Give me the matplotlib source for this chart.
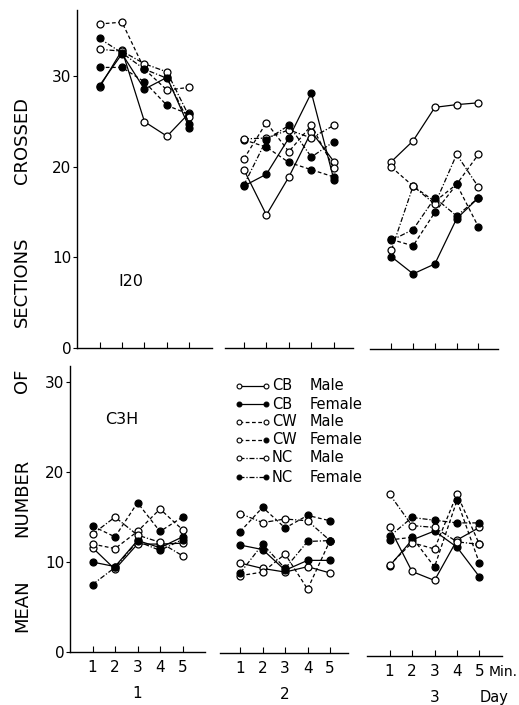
import numpy as np
import matplotlib
matplotlib.use("Agg")
import matplotlib.pyplot as plt
from matplotlib.lines import Line2D

W, H = 519, 705

minutes = [1, 2, 3, 4, 5]
days = ["1", "2", "3"]
labels = ["CB Male", "CB Female", "CW Male", "CW Female", "NC Male", "NC Female"]
ylabel_words = ["MEAN", "NUMBER", "OF", "SECTIONS", "CROSSED"]

# strain I20, one list per day (minutes 1-5)
i20_cb_male = [[28.8, 32.9, 25.0, 23.4, 26.0], [19.7, 14.7, 18.9, 23.9, 20.6], [20.7, 23.0, 26.7, 27.0, 27.2]]
i20_cb_female = [[29.0, 32.5, 28.6, 29.9, 24.3], [17.9, 19.2, 23.2, 28.2, 18.6], [10.2, 8.3, 9.4, 14.4, 16.7]]
i20_cw_male = [[35.8, 36.0, 30.8, 28.5, 28.8], [20.9, 24.9, 21.7, 24.6, 19.9], [20.1, 18.0, 16.3, 18.2, 21.5]]
i20_cw_female = [[31.0, 31.0, 29.4, 26.8, 25.8], [23.0, 22.2, 20.5, 19.7, 18.9], [12.1, 11.4, 15.1, 18.2, 13.5]]
i20_nc_male = [[33.0, 32.8, 31.4, 30.5, 25.5], [23.1, 23.2, 24.1, 23.2, 24.6], [10.9, 18.0, 16.0, 21.5, 17.9]]
i20_nc_female = [[34.2, 32.6, 30.8, 29.8, 24.8], [18.0, 23.0, 24.6, 21.1, 22.8], [12.0, 13.2, 16.7, 14.7, 16.7]]

# strain C3H
c3h_cb_male = [[11.6, 9.2, 12.0, 12.0, 12.1], [10.0, 9.4, 9.0, 9.6, 8.9], [14.3, 9.4, 8.4, 12.9, 14.3]]
c3h_cb_female = [[10.0, 9.5, 12.4, 11.6, 12.8], [12.0, 11.5, 9.2, 10.3, 10.3], [10.0, 12.9, 13.9, 12.1, 8.8]]
c3h_cw_male = [[12.0, 11.5, 13.4, 15.9, 13.6], [8.6, 9.0, 11.0, 7.1, 12.5], [10.1, 12.6, 11.9, 18.0, 12.4]]
c3h_cw_female = [[14.0, 12.8, 16.6, 13.4, 15.0], [13.5, 16.2, 13.9, 15.3, 14.7], [12.9, 13.2, 9.9, 17.3, 10.3]]
c3h_nc_male = [[13.1, 15.0, 13.0, 12.2, 10.7], [15.5, 14.5, 14.9, 14.7, 12.5], [18.0, 14.5, 14.3, 12.7, 12.4]]
c3h_nc_female = [[7.5, 9.4, 12.3, 11.3, 12.5], [8.9, 12.1, 9.4, 12.4, 12.5], [13.3, 15.4, 15.1, 14.8, 14.8]]

i20 = [i20_cb_male, i20_cb_female, i20_cw_male, i20_cw_female, i20_nc_male, i20_nc_female]
c3h = [c3h_cb_male, c3h_cb_female, c3h_cw_male, c3h_cw_female, c3h_nc_male, c3h_nc_female]

dash = (0, (3, 2))
dashdot = (0, (4, 1.5, 1, 1.5))
styles = ["-", "-", dash, dash, dashdot, dashdot]
faces = ["white", "black", "white", "black", "white", "black"]

fig = plt.figure(figsize=(W / 100, H / 100), dpi=100)


def add_ax(left, right, y0, ytop):
    return fig.add_axes([left / W, (H - y0) / H, (right - left) / W, (y0 - ytop) / H])


# pixel boxes for each panel: (left, right, zero line, top)
top_boxes = [(77, 212, 348, 10.4), (225, 353, 348, 10.4), (370, 498, 349, 11.4)]
top_xlims = [(0, 6), (0.16, 5.85), (0.02, 5.9)]
bot_boxes = [(70, 205, 652, 366), (220, 348, 653, 367), (367, 502, 656, 370)]
bot_xlims = [(0, 6), (0.1, 5.8), (0.0, 6.0)]


def draw_row(boxes, xlims, data, ymax, show_labels):
    axes = []
    for g in range(3):
        ax = add_ax(*boxes[g])
        ax.set_xlim(*xlims[g])
        ax.set_ylim(0, ymax)
        for s in range(6):
            ax.plot(minutes, data[s][g], linestyle=styles[s], color="black", lw=0.9,
                    marker="o", ms=5, mfc=faces[s], mec="black", mew=0.9, clip_on=False)
        for side in ["top", "right"]:
            ax.spines[side].set_visible(False)
        ax.spines["bottom"].set_linewidth(1.0)
        ax.set_xticks(minutes)
        ax.tick_params(axis="x", direction="in", length=4, width=0.8,
                       labelsize=11, pad=6, labelbottom=show_labels)
        if g == 0:
            ax.spines["left"].set_linewidth(1.0)
            ax.set_yticks([0, 10, 20, 30])
            ax.tick_params(axis="y", direction="out", length=3, width=0.8,
                           labelsize=11, pad=1)
        else:
            ax.spines["left"].set_visible(False)
            ax.set_yticks([])
        ax.patch.set_alpha(0)
        axes.append(ax)
    return axes


top_axes = draw_row(top_boxes, top_xlims, i20, 37.3, False)
bot_axes = draw_row(bot_boxes, bot_xlims, c3h, 31.8, True)

top_axes[0].text(2.4, 7.3, "I20", fontsize=11.5, ha="center", va="center")
bot_axes[0].text(2.3, 25.8, "C3H", fontsize=11.5, ha="center", va="center")

for g in range(3):
    bot_axes[g].text(3, -0.145, days[g], transform=bot_axes[g].get_xaxis_transform(),
                     fontsize=11, ha="center", va="center")
bot_axes[2].text(5.4, -0.055, "Min.", transform=bot_axes[2].get_xaxis_transform(),
                 fontsize=10, ha="left", va="center")
bot_axes[2].text(5.65, -0.145, "Day", transform=bot_axes[2].get_xaxis_transform(),
                 fontsize=10.5, ha="center", va="center")

# y label: the scan has wide letter spacing, so the words are set apart
ylabel_centers = [606, 498, 381, 282, 140]
for word, yc in zip(ylabel_words, ylabel_centers):
    fig.text(22 / W, 1 - yc / H, word, rotation=90, fontsize=13,
             ha="center", va="center")

# legend, drawn by hand in figure pixels
rows_y = [386, 404, 422, 440, 458, 477]
for s in range(6):
    yy = 1 - rows_y[s] / H
    strain, sex = labels[s].split()
    fig.add_artist(Line2D([239 / W, 266 / W], [yy, yy], transform=fig.transFigure,
                          color="black", lw=0.9, linestyle=styles[s]))
    left_face = "black" if s in (1, 5) else "white"
    fig.add_artist(Line2D([239 / W], [yy], transform=fig.transFigure, marker="o", ms=3.5,
                          mfc=left_face, mec="black", mew=0.8, linestyle="none"))
    fig.add_artist(Line2D([266 / W], [yy], transform=fig.transFigure, marker="o", ms=3.5,
                          mfc=faces[s], mec="black", mew=0.8, linestyle="none"))
    fig.text(272 / W, yy, strain, fontsize=10.5, ha="left", va="center")
    fig.text(310 / W, yy, sex, fontsize=10.5, ha="left", va="center")

fig.savefig("out.png", dpi=100)
